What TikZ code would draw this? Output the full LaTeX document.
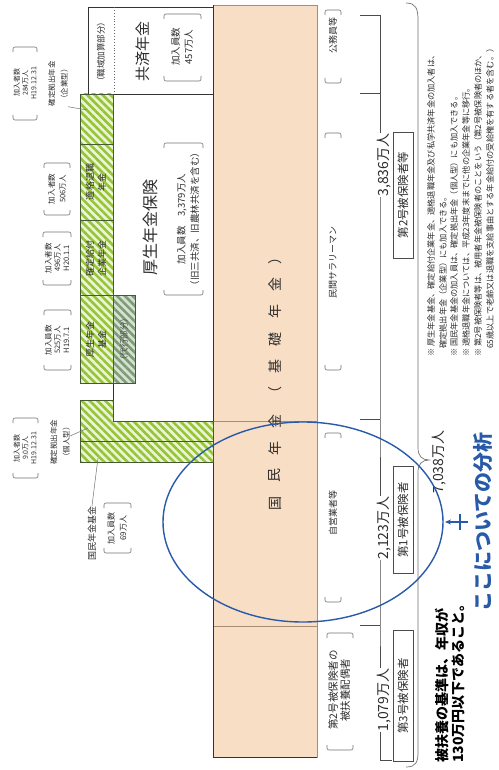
\documentclass[tikz,border=0pt]{standalone}
\usepackage{fontspec}
\setmainfont{Noto Sans CJK JP}
\usetikzlibrary{patterns.meta,arrows.meta}
\definecolor{tanf}{RGB}{248,222,196}
\definecolor{tanline}{RGB}{170,140,115}
\definecolor{hgreen}{RGB}{150,196,55}
\definecolor{hlight}{RGB}{236,244,214}
\definecolor{hdark}{RGB}{70,90,50}
\definecolor{ggreen}{RGB}{125,155,120}
\definecolor{glight}{RGB}{214,226,208}
\definecolor{bluec}{RGB}{40,90,170}
\definecolor{txtc}{RGB}{45,45,45}
\newcommand{\fz}[2]{\fontsize{#1}{#2}\selectfont}
\newcommand{\brk}[4]{%
  \draw[brkline] (#1,#2+5) -- (#1,#2) -- (#3,#2) -- (#3,#2+5);
  \draw[brkline] (#1,#4-5) -- (#1,#4) -- (#3,#4) -- (#3,#4-5);}
\tikzset{
  lbl/.style={rotate=90, inner sep=0pt, align=center, text=txtc},
  brkline/.style={draw=black!55, line width=0.6pt, rounded corners=2pt},
  hatch/.style={preaction={fill=hlight}, pattern={Lines[angle=-45,distance=5.5pt,line width=2.6pt]}, pattern color=hgreen},
  ghatch/.style={preaction={fill=glight}, pattern={Lines[angle=-45,distance=5.5pt,line width=2.6pt]}, pattern color=ggreen},
  hline/.style={draw=hdark, line width=0.6pt},
  mline/.style={draw=black!70, line width=0.6pt},
  nbox/.style={lbl, draw=black!70, line width=0.6pt, minimum height=20pt},
  lead/.style={draw=black!55, line width=0.5pt},
}
\begin{document}
\begin{tikzpicture}[x=1pt,y=-1pt]
\useasboundingbox (0,0) rectangle (498,770);
\fill[white] (0,0) rectangle (498,770);

% ---- national pension (tan) ----
\path[fill=tanf, draw=tanline, line width=0.6pt] (213,5) rectangle (317,757);
\draw[tanline, line width=0.6pt] (213,421) -- (317,421);
\draw[tanline, line width=0.6pt] (213,626) -- (317,626);
\draw[black!80, line width=0.7pt] (213,5) -- (213,757) -- (317,757);
\foreach \c [count=\i from 0] in {国,民,年,金,（,基,礎,年,金,）}{
  \node[lbl, font=\fz{14}{14}] (kk\i) at (275,{503-27.3*\i}) {\c};
}

% ---- kyosai box ----
\draw[black!80, line width=0.7pt, fill=white] (88,7) rectangle (213,94);
\draw[black!60, dotted, line width=0.9pt] (114,7) -- (114,94);
\node[lbl, font=\fz{8.5}{10}] (shokuiki) at (101,52) {（職域加算部分）};
\node[lbl, font=\fz{15}{15}] (kyosai) at (143,52) {共済年金};
\node[lbl, font=\fz{9.5}{13}] (kyosain) at (182,47) {加入員数\\457万人};
\brk{164}{14}{201}{81}

% ---- kosei nenkin hoken box ----
\draw[black!80, line width=0.7pt, fill=white] (113,94) rectangle (213,421);
\node[lbl, font=\fz{16}{16}] (kosei) at (150,227) {厚生年金保険};
\node[lbl, font=\fz{9.5}{13.5}] (koseiin) at (188,219) {加入員数　3,379万人\\（旧三共済、旧農林共済を含む）};
\brk{164}{143}{203}{295}

% ---- hatched column (corporate pensions) ----
\path[hatch] (80,94) rectangle (113,383);
\path[ghatch] (113,295) rectangle (135,383);
\draw[hline] (80,94) rectangle (113,383);
\draw[hline] (113,295) rectangle (135,383);
\draw[hline] (80,144) -- (113,144);
\draw[hline] (80,220) -- (113,220);
\draw[hline] (80,295) -- (113,295);
\node[lbl, font=\fz{9}{12}] (tekikaku) at (96,182) {適格退職\\年金};
\node[lbl, font=\fz{9}{12}] (kakutei) at (96,258) {確定給付\\企業年金};
\node[lbl, font=\fz{9}{12}] (kikin) at (96,339) {厚生年金\\基金};
\node[lbl, font=\fz{8.5}{10}, text=black!70] (daiko) at (124,339) {（代行部分）};

% ---- L-shaped individual DC + national pension fund ----
\path[hatch] (80,400) -- (113,400) -- (113,421) -- (213,421) -- (213,462) -- (80,462) -- cycle;
\draw[hline] (80,400) -- (113,400) -- (113,421) -- (213,421) -- (213,462) -- (80,462) -- cycle;
\draw[hline] (80,441) -- (213,441);

% ---- left labels ----
\node[lbl, font=\fz{7}{8.5}] (l284) at (25,83) {加入者数\\284万人\\H19.12.31};
\brk{13}{47}{37}{120}
\node[lbl, font=\fz{7.5}{12.5}] (dckigyo) at (58,84) {確定拠出年金\\（企業型）};
\coordinate (dckigyoP) at (87,110);
\draw[lead] (dckigyo.south west) -- (dckigyoP);

\node[lbl, font=\fz{7.5}{11}] (l506) at (57,189) {加入者数\\506万人};
\brk{44}{163}{70}{215}
\node[lbl, font=\fz{7.5}{9}] (l496) at (57,258) {加入者数\\496万人\\H20.1.1};
\brk{43}{232}{71}{285}
\node[lbl, font=\fz{7.5}{9}] (l525) at (57,340) {加入員数\\525万人\\H19.7.1};
\brk{44}{310}{71}{370}

\node[lbl, font=\fz{7}{8.5}] (l90) at (25,448) {加入者数\\9.0万人\\H19.12.31};
\brk{13}{418}{38}{478}
\node[lbl, font=\fz{7.5}{12.5}] (dckojin) at (60,442) {確定拠出年金\\（個人型）};
\coordinate (dckojinP) at (88,428);
\draw[lead] (70,436) -- (dckojinP);

\node[lbl, font=\fz{9}{10}] (kokukikin) at (92,533) {国民年金基金};
\coordinate (kokukikinP) at (98,458);
\draw[lead] (kokukikin.east) -- (kokukikinP);
\node[lbl, font=\fz{8}{12}] (l69) at (117,528) {加入員数\\69万人};
\brk{104}{503}{131}{553}

% ---- right labels ----
\node[lbl, font=\fz{9}{10}] (koumu) at (333,36) {公務員等};
\brk{325}{10}{341}{83}
\node[lbl, font=\fz{9}{10}] (minkan) at (333,262) {民間サラリーマン};
\brk{325}{133}{341}{370}
\node[lbl, font=\fz{9}{10}] (jiei) at (333,513) {自営業者等};
\brk{325}{433}{341}{602}
\node[lbl, font=\fz{10.5}{12}] (hifuyo) at (339,690) {第2号被保険者の\\被扶養配偶者};
\brk{327}{633}{353}{750}

% ---- measurement line ----
\node[lbl, font=\fz{14}{14}] (n3836) at (384,165) {3,836万人};
\node[lbl, font=\fz{14}{14}] (n2123) at (384,528) {2,123万人};
\node[lbl, font=\fz{14}{14}] (n1079) at (384,700) {1,079万人};
\coordinate (m0) at (380,15);
\coordinate (m1) at (380,93);
\coordinate (m2) at (380,419);
\coordinate (m3) at (380,625);
\coordinate (m4) at (380,760);
\draw[mline] (360,15) -- (m0) -- (n3836.east -| m0);
\draw[mline] (n3836.west -| m0) -- (m2) -- (n2123.east -| m0);
\draw[mline] (n2123.west -| m0) -- (m3) -- (n1079.east -| m0);
\draw[mline] (n1079.west -| m0) -- (m4) -- (392,760);
\draw[mline] (360,93) -- (m1);
\draw[mline] (360,419) -- (m2);
\draw[mline] (360,625) -- (m3);

% ---- category boxes ----
\node[nbox, font=\fz{11.5}{12}, minimum width=126pt] (dai2) at (403,195) {第2号被保険者等};
\node[nbox, font=\fz{11.5}{12}, minimum width=107pt] (dai1) at (403,520) {第1号被保険者};
\node[nbox, font=\fz{11.5}{12}, minimum width=131pt] (dai3) at (403,696) {第3号被保険者};

% ---- brace ----
\draw[black!55, line width=0.7pt] (406,3) .. controls (416,3) and (418,9) .. (418,20) -- (418,448)
  .. controls (418,456) and (422,460) .. (429,460) .. controls (422,460) and (418,464) .. (418,472)
  -- (418,752) .. controls (418,762) and (416,767) .. (406,767);
\node[lbl, font=\fz{14}{14}] (n7038) at (439,462) {7,038万人};

% ---- footnotes ----
\node[lbl, anchor=west, font=\fz{8.2}{9}] (fn1) at (431,357) {※ 厚生年金基金、確定給付企業年金、適格退職年金及び私学共済年金の加入者は、};
\node[lbl, anchor=west, font=\fz{8.2}{9}] (fn2) at (443,357) {　確定拠出年金（企業型）にも加入できる。};
\node[lbl, anchor=west, font=\fz{8.2}{9}] (fn3) at (454,357) {※ 国民年金基金の加入員は、確定拠出年金（個人型）にも加入できる。};
\node[lbl, anchor=west, font=\fz{8.2}{9}] (fn4) at (466,357) {※ 適格退職年金については、平成23年度末までに他の企業年金等に移行。};
\node[lbl, anchor=west, font=\fz{8.2}{9}] (fn5) at (478,357) {※ 第2号被保険者等は、被用者年金被保険者のことをいう（第2号被保険者のほか、};
\node[lbl, anchor=west, font=\fz{8.2}{9}] (fn6) at (490,357) {　65歳以上で老齢又は退職を支給事由とする年金給付の受給権を有する者を含む。）};

% ---- notes ----
\node[lbl, anchor=west, font=\fz{14}{14}\bfseries, text=black] (note1) at (442,763) {被扶養の基準は、年収が};
\node[lbl, anchor=west, font=\fz{14}{14}\bfseries, text=black] (note2) at (458,763) {130万円以下であること。};
\node[lbl, font=\fz{20}{20}\bfseries, text=bluec] (bunseki) at (483,522) {ここについての分析};

% ---- ellipse + arrow ----
\draw[bluec, line width=1.4pt] (303,522) ellipse [x radius=140, y radius=100];
\coordinate (arrS) at (468,522);
\coordinate (arrE) at (445,522);
\draw[bluec, line width=1.2pt, -{Stealth[length=6pt,width=5pt]}] (arrS) -- (arrE);
\draw[bluec, line width=1.2pt] (460,514) -- (460,530);
\end{tikzpicture}
\end{document}
